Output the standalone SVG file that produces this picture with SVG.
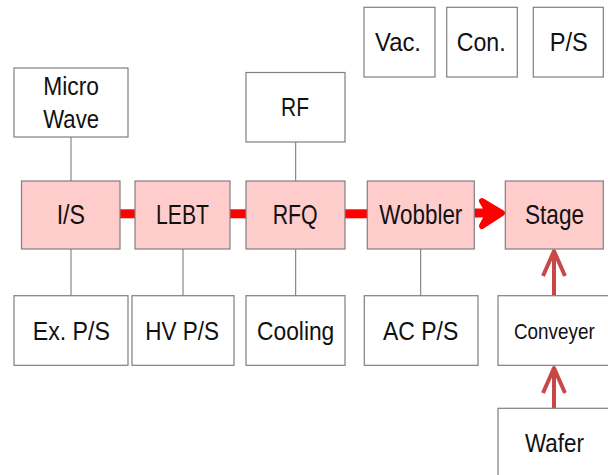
<svg xmlns="http://www.w3.org/2000/svg" width="608" height="475" viewBox="0 0 608 475">
<style>
.box{fill:#ffffff;stroke:#7f7f7f;stroke-width:1.2}
.pk{fill:#ffcccc;stroke:#7f7f7f;stroke-width:1.2}
text{font-family:"Liberation Sans",Arial,sans-serif;fill:#111;}
.t24{font-size:25px}
.t27{font-size:27.5px}
.t21{font-size:21.5px}
.thin{stroke:#707070;stroke-width:1}
.red{stroke:#ff0000;stroke-width:9;fill:none}
.dred{stroke:#c84848;stroke-width:4;fill:none;stroke-linejoin:round}
</style>
<g id="connectors">
<line class="thin" x1="71" y1="137" x2="71" y2="181"/>
<line class="thin" x1="295.7" y1="142" x2="295.7" y2="181"/>
<line class="thin" x1="71" y1="249" x2="71" y2="296"/>
<line class="thin" x1="183" y1="249" x2="183" y2="296"/>
<line class="thin" x1="295.7" y1="249" x2="295.7" y2="296"/>
<line class="thin" x1="420.7" y1="249" x2="420.7" y2="296"/>
<line class="red" x1="120" y1="213.8" x2="135" y2="213.8"/>
<line class="red" x1="230" y1="213.8" x2="246" y2="213.8"/>
<line class="red" x1="345" y1="213.8" x2="367.3" y2="213.8"/>
<line class="red" x1="474.3" y1="213" x2="494" y2="213"/>
<path d="M482,201 L502,213 L482,226 L489,213 Z" fill="#ff0000" stroke="#ff0000" stroke-width="6" stroke-linejoin="round"/>
<line class="dred" x1="554" y1="296" x2="554" y2="252"/>
<polyline class="dred" points="543,276 554,251 565,276"/>
<line class="dred" x1="554" y1="408" x2="554" y2="368"/>
<polyline class="dred" points="543,393 554,368 565,393"/>
</g>
<g id="microwave"><rect class="box" x="14" y="68" width="114" height="69"/><text class="t24" x="43.3" y="95" textLength="55.7" lengthAdjust="spacingAndGlyphs">Micro</text><text class="t24" x="43.3" y="128.3" textLength="55.7" lengthAdjust="spacingAndGlyphs">Wave</text></g>
<g id="rf"><rect class="box" x="246" y="72.5" width="99" height="69.5"/><text class="t24" x="281" y="115.7" textLength="28" lengthAdjust="spacingAndGlyphs">RF</text></g>
<g id="vac"><rect class="box" x="364" y="7.3" width="71" height="69.7"/><text class="t24" x="375" y="50.7" textLength="46" lengthAdjust="spacingAndGlyphs">Vac.</text></g>
<g id="con"><rect class="box" x="446.7" y="7.3" width="70.6" height="69.7"/><text class="t24" x="456.7" y="50.7" textLength="49" lengthAdjust="spacingAndGlyphs">Con.</text></g>
<g id="ps"><rect class="box" x="533.3" y="7.3" width="70" height="69.7"/><text class="t24" x="549.7" y="50.7" textLength="38" lengthAdjust="spacingAndGlyphs">P/S</text></g>
<g id="is"><rect class="pk" x="21.5" y="181" width="98.5" height="68"/><text class="t27" x="56.7" y="223.8" textLength="28.3" lengthAdjust="spacingAndGlyphs">I/S</text></g>
<g id="lebt"><rect class="pk" x="135" y="181" width="95" height="68"/><text class="t27" x="156" y="223.8" textLength="53" lengthAdjust="spacingAndGlyphs">LEBT</text></g>
<g id="rfq"><rect class="pk" x="246" y="181" width="99" height="68"/><text class="t27" x="272.7" y="223.8" textLength="45" lengthAdjust="spacingAndGlyphs">RFQ</text></g>
<g id="wobbler"><rect class="pk" x="367.3" y="181" width="107" height="68"/><text class="t27" x="379.3" y="223.8" textLength="83" lengthAdjust="spacingAndGlyphs">Wobbler</text></g>
<g id="stage"><rect class="pk" x="505.3" y="181" width="98" height="68"/><text class="t27" x="525" y="223.8" textLength="59" lengthAdjust="spacingAndGlyphs">Stage</text></g>
<g id="exps"><rect class="box" x="14" y="295.7" width="114" height="69.6"/><text class="t24" x="32.7" y="340" textLength="77.3" lengthAdjust="spacingAndGlyphs">Ex. P/S</text></g>
<g id="hvps"><rect class="box" x="132" y="295.7" width="102" height="69.6"/><text class="t24" x="145.3" y="340" textLength="73.7" lengthAdjust="spacingAndGlyphs">HV P/S</text></g>
<g id="cooling"><rect class="box" x="246" y="295.7" width="99" height="69.6"/><text class="t24" x="257" y="339.5" textLength="77.3" lengthAdjust="spacingAndGlyphs">Cooling</text></g>
<g id="acps"><rect class="box" x="364.3" y="295.7" width="113.7" height="69.6"/><text class="t24" x="383" y="340" textLength="75.3" lengthAdjust="spacingAndGlyphs">AC P/S</text></g>
<g id="conveyer"><rect class="box" x="498" y="295.7" width="112" height="69.6"/><text class="t21" x="514" y="339" textLength="80.7" lengthAdjust="spacingAndGlyphs">Conveyer</text></g>
<g id="wafer"><rect class="box" x="498" y="408.3" width="112" height="70"/><text class="t24" x="525" y="451.7" textLength="59" lengthAdjust="spacingAndGlyphs">Wafer</text></g>
</svg>
